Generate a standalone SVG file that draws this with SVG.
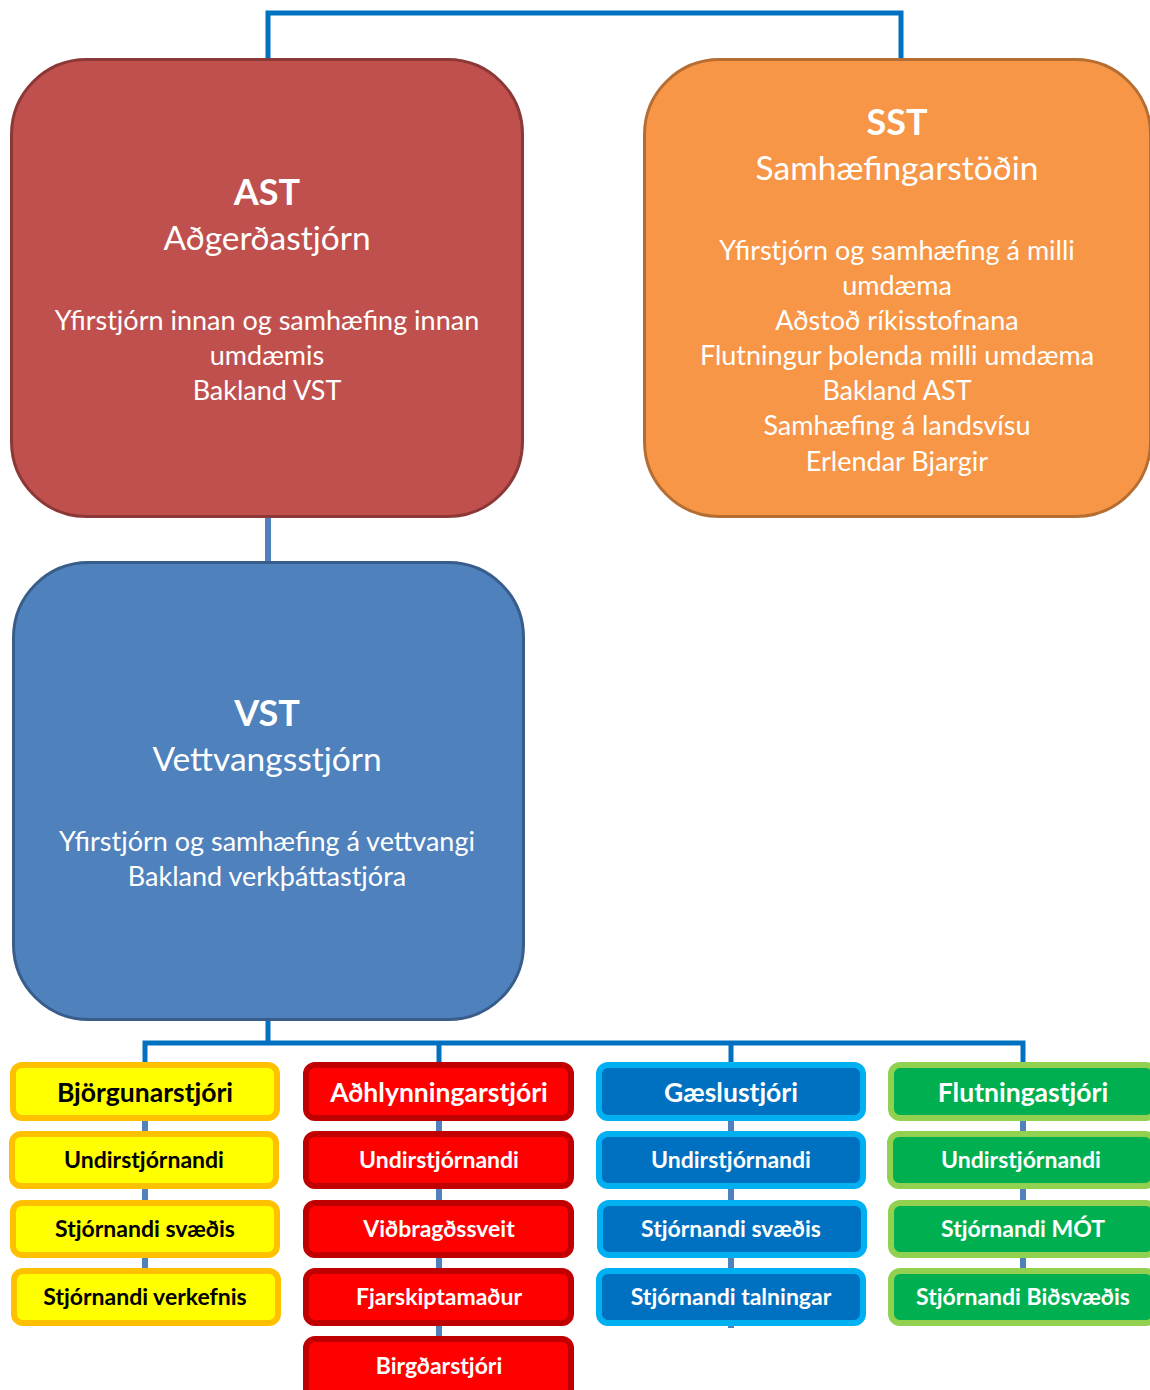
<svg xmlns="http://www.w3.org/2000/svg" width="1150" height="1390" viewBox="0 0 1150 1390">
<style>
text{font-family:Lato,"Open Sans","Liberation Sans",sans-serif;text-anchor:middle;fill:#fff}
.t{font-weight:bold;font-size:36px}
.s{font-size:33.5px}
.b{font-size:27px}
.h{font-weight:bold;font-size:26.5px}
.r{font-weight:bold;font-size:23px}
.k{fill:#000}
.c1{fill:none;stroke:#0070C0;stroke-width:5}
.c2{fill:none;stroke:#4F81BD;stroke-width:6}
.y{fill:#FFFF00;stroke:#FFC000;stroke-width:6}
.rd{fill:#FF0000;stroke:#C00000;stroke-width:6}
.bl{fill:#0070C0;stroke:#00B0F0;stroke-width:6}
.g{fill:#00B050;stroke:#92D050;stroke-width:6}
</style>
<g id="connectors">
<path class="c1" d="M268 60 V13 H901 V60"/>
<path class="c2" d="M268 518 V562" stroke-width="5"/>
<path class="c1" d="M268 1020 V1043 M145 1064 V1043 H1023 V1064 M439 1043 V1064 M731 1043 V1064"/>
<path class="c2" d="M145 1118 V1300 M439 1118 V1370 M731 1118 V1328 M1023 1118 V1300"/>
</g>
<g id="ast">
<rect x="11.5" y="59.5" width="511" height="457" rx="75" ry="75" fill="#C0504D" stroke="#8C3836" stroke-width="3"/>
<text class="t" x="267" y="205">AST</text>
<text class="s" x="267" y="250">Aðgerðastjórn</text>
<text class="b" x="267" y="330">Yfirstjórn innan og samhæfing innan</text>
<text class="b" x="267" y="365">umdæmis</text>
<text class="b" x="267" y="400">Bakland VST</text>
</g>
<g id="sst">
<rect x="644.5" y="59.5" width="506" height="457" rx="75" ry="75" fill="#F79646" stroke="#B66D31" stroke-width="3"/>
<text class="t" x="897" y="135">SST</text>
<text class="s" x="897" y="180">Samhæfingarstöðin</text>
<text class="b" x="897" y="260">Yfirstjórn og samhæfing á milli</text>
<text class="b" x="897" y="295">umdæma</text>
<text class="b" x="897" y="330">Aðstoð ríkisstofnana</text>
<text class="b" x="897" y="365">Flutningur þolenda milli umdæma</text>
<text class="b" x="897" y="400">Bakland AST</text>
<text class="b" x="897" y="435">Samhæfing á landsvísu</text>
<text class="b" x="897" y="471">Erlendar Bjargir</text>
</g>
<g id="vst">
<rect x="13.5" y="562.5" width="510" height="457" rx="75" ry="75" fill="#4F81BD" stroke="#385D8A" stroke-width="3"/>
<text class="t" x="267" y="726">VST</text>
<text class="s" x="267" y="771">Vettvangsstjórn</text>
<text class="b" x="267" y="851">Yfirstjórn og samhæfing á vettvangi</text>
<text class="b" x="267" y="886">Bakland verkþáttastjóra</text>
</g>
<g id="bjorgunarstjori"><rect class="y" x="13" y="1065" width="264" height="53" rx="9"/><text class="h k" x="145" y="1102">Björgunarstjóri</text></g>
<g id="y-undir"><rect class="y" x="12" y="1134" width="264" height="52" rx="9"/><text class="r k" x="144" y="1168">Undirstjórnandi</text></g>
<g id="y-svaedis"><rect class="y" x="13" y="1203" width="264" height="52" rx="9"/><text class="r k" x="145" y="1237">Stjórnandi svæðis</text></g>
<g id="y-verkefnis"><rect class="y" x="14" y="1271" width="264" height="52" rx="9"/><text class="r k" x="145" y="1305">Stjórnandi verkefnis</text></g>
<g id="adhlynningarstjori"><rect class="rd" x="306" y="1065" width="265" height="53" rx="9"/><text class="h" x="439" y="1102">Aðhlynningarstjóri</text></g>
<g id="r-undir"><rect class="rd" x="306" y="1134" width="265" height="52" rx="9"/><text class="r" x="439" y="1168">Undirstjórnandi</text></g>
<g id="r-vidbragd"><rect class="rd" x="306" y="1203" width="265" height="52" rx="9"/><text class="r" x="439" y="1237">Viðbragðssveit</text></g>
<g id="r-fjarskipt"><rect class="rd" x="306" y="1271" width="265" height="52" rx="9"/><text class="r" x="439" y="1305">Fjarskiptamaður</text></g>
<g id="r-birgd"><rect class="rd" x="306" y="1339" width="265" height="60" rx="9"/><text class="r" x="439" y="1374">Birgðarstjóri</text></g>
<g id="gaeslustjori"><rect class="bl" x="599" y="1065" width="264" height="53" rx="9"/><text class="h" x="731" y="1102">Gæslustjóri</text></g>
<g id="b-undir"><rect class="bl" x="599" y="1134" width="264" height="52" rx="9"/><text class="r" x="731" y="1168">Undirstjórnandi</text></g>
<g id="b-svaedis"><rect class="bl" x="600" y="1203" width="264" height="52" rx="9"/><text class="r" x="731" y="1237">Stjórnandi svæðis</text></g>
<g id="b-talningar"><rect class="bl" x="599" y="1271" width="264" height="52" rx="9"/><text class="r" x="731" y="1305">Stjórnandi talningar</text></g>
<g id="flutningastjori"><rect class="g" x="891" y="1065" width="264" height="53" rx="9"/><text class="h" x="1023" y="1102">Flutningastjóri</text></g>
<g id="g-undir"><rect class="g" x="890" y="1134" width="264" height="52" rx="9"/><text class="r" x="1021" y="1168">Undirstjórnandi</text></g>
<g id="g-mot"><rect class="g" x="891" y="1203" width="264" height="52" rx="9"/><text class="r" x="1023" y="1237">Stjórnandi MÓT</text></g>
<g id="g-bidsvaedis"><rect class="g" x="891" y="1271" width="264" height="52" rx="9"/><text class="r" x="1023" y="1305">Stjórnandi Biðsvæðis</text></g>
</svg>
